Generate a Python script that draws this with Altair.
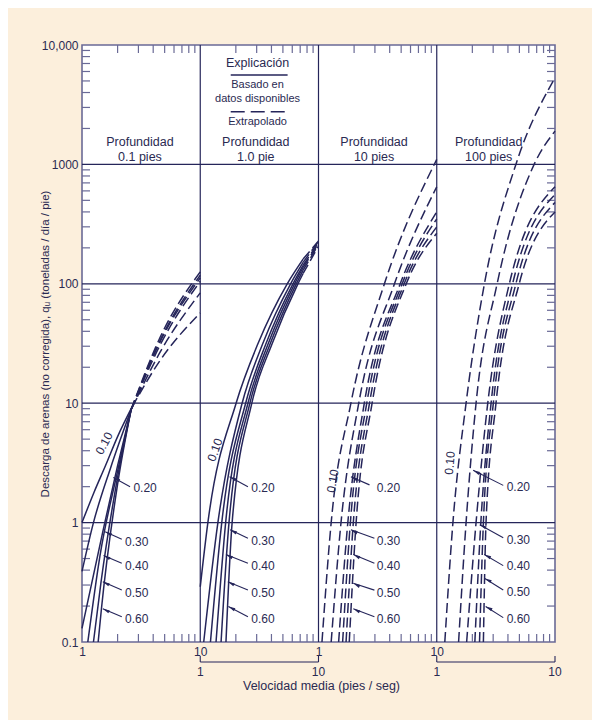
import altair as alt
import pandas as pd

W, H = 473, 597
NAVY = "#25255a"
TEXT = "#2a2a52"
FRAME = "#6a6a96"
BG = "#fcefdc"
FONT = "Liberation Sans"

SIZES = ["0.10", "0.20", "0.30", "0.40", "0.50", "0.60"]

# ---- curve readings: velocity (pies/seg) and discharge (ton/dia/pie) ----
# Panel 1: depth 0.1 ft
P1_SOLID_V = [[1.0, 1.26, 1.585, 2.0, 2.65], [1.0, 1.25, 1.75, 2.6], [1.0, 1.5, 2.0, 2.6],
              [1.12, 1.42, 2.0, 2.6], [1.25, 1.45, 2.0, 2.6], [1.37, 1.46, 2.0, 2.6]]
P1_SOLID_Q = [[1.0, 1.78, 3.02, 5.25, 9.3], [0.39, 1.0, 2.9, 8.8], [0.13, 0.84, 3.0, 8.8],
              [0.1, 0.53, 2.7, 8.8], [0.1, 0.32, 2.4, 8.8], [0.1, 0.19, 2.1, 8.8]]
P1_DASH_V = [[2.65, 4.6, 10], [2.6, 4.6, 10], [2.6, 4.6, 10],
             [2.6, 4.6, 10], [2.6, 4.6, 10], [2.6, 4.6, 10]]
P1_DASH_Q = [[9.3, 23, 57], [8.8, 27, 84], [8.8, 31, 105],
             [8.8, 33, 112], [8.8, 34, 118], [8.8, 36, 126]]
# Panel 2: depth 1.0 ft
P2_SOLID_V = [[1.0, 1.16, 2.01, 3.08, 5.44, 7.41], [1.07, 1.41, 2.26, 3.38, 5.81, 7.41],
              [1.22, 1.52, 2.42, 3.60, 6.08, 7.41], [1.36, 1.64, 2.53, 3.76, 6.28, 7.41],
              [1.50, 1.75, 2.63, 3.91, 6.49, 7.41], [1.65, 1.86, 2.73, 4.06, 6.70, 7.41]]
P2_SOLID_Q = [[0.29, 1, 10, 31.6, 100, 161], [0.1, 1, 10, 31.6, 100, 151], [0.1, 1, 10, 31.6, 100, 143],
              [0.1, 1, 10, 31.6, 100, 137], [0.1, 1, 10, 31.6, 100, 130], [0.1, 1, 10, 31.6, 100, 122]]
P2_DASH_V = [[7.41, 10], [7.41, 10], [7.41, 10], [7.41, 10], [7.41, 10], [7.41, 10]]
P2_DASH_Q = [[161, 228], [151, 227], [143, 221], [137, 218], [130, 213], [122, 207]]
# Panel 3: depth 10 ft
P3_DASH_V = [[1.07, 1.28, 1.88, 3.61, 10], [1.28, 1.55, 2.19, 4.39, 10], [1.48, 1.77, 2.44, 4.91, 10],
             [1.60, 1.86, 2.56, 5.10, 10], [1.71, 1.97, 2.70, 5.30, 10], [1.82, 2.08, 2.84, 5.52, 10]]
P3_DASH_Q = [[0.1, 1, 10, 100, 1100], [0.1, 1, 10, 100, 650], [0.1, 1, 10, 100, 400],
             [0.1, 1, 10, 100, 350], [0.1, 1, 10, 100, 300], [0.1, 1, 10, 100, 265]]
# Panel 4: depth 100 ft
P4_DASH_V = [[1.17, 1.37, 1.77, 2.53, 4.67, 10], [1.53, 1.77, 2.15, 3.24, 6.66, 10], [1.79, 2.15, 2.70, 4.11, 10],
             [2.10, 2.36, 2.88, 4.38, 10], [2.30, 2.48, 3.01, 4.67, 10], [2.48, 2.61, 3.17, 4.98, 10]]
P4_DASH_Q = [[0.1, 1, 10, 100, 1000, 5300], [0.1, 1, 10, 100, 1000, 1900], [0.1, 1, 10, 100, 650],
             [0.1, 1, 10, 100, 560], [0.1, 1, 10, 100, 480], [0.1, 1, 10, 100, 400]]

# ---- annotations ----
DEPTH_TEXT = ["0.1 pies", "1.0 pie", "10 pies", "100 pies"]
DEPTH_V = [3.09, 2.95, 2.95, 2.75]
DEPTH_Q1, DEPTH_Q2 = 1540, 1153

NUM_TEXT = ["0.20", "0.30", "0.40", "0.50", "0.60"]
LABEL_V = [[2.72, 2.31, 2.31, 2.31, 2.31], [2.70] * 5, [3.11] * 5, [3.90] * 5]
LABEL_Q = [[1.94, 0.69, 0.435, 0.259, 0.155], [1.94, 0.70, 0.43, 0.256, 0.155],
           [1.96, 0.70, 0.432, 0.259, 0.156], [1.98, 0.72, 0.436, 0.264, 0.157]]
TAIL_V = [[2.55, 2.17, 2.17, 2.17, 2.17], [2.53] * 5, [2.70, 2.97, 2.97, 2.97, 2.97], [3.65] * 5]
TAIL_Q = [[2.0, 0.724, 0.456, 0.272, 0.163], [2.0, 0.74, 0.456, 0.272, 0.163],
          [2.07, 0.738, 0.456, 0.272, 0.163], [2.05, 0.748, 0.436, 0.273, 0.160]]
TIP_V = [[1.84, 1.57, 1.52, 1.50, 1.50], [1.77, 1.79, 1.65, 1.71, 1.73],
         [1.88, 1.88, 1.97, 1.97, 1.97], [2.03, 2.31, 2.52, 2.55, 2.59]]
TIP_Q = [[2.39, 0.84, 0.53, 0.32, 0.19], [2.42, 0.87, 0.54, 0.32, 0.198],
         [2.42, 0.87, 0.54, 0.31, 0.19], [2.74, 0.96, 0.54, 0.34, 0.198]]

ROT_V = [1.54, 1.335, 1.32, 1.29]
ROT_Q = [4.61, 4.06, 2.23, 3.16]
ROT_ANGLE = [298, 290, 280, 275]

LEG_TEXT = ["Explicación", "Basado en", "datos disponibles", "Extrapolado"]
LEG_Q = [7035, 4624, 3508, 2280]
LEG_SIZE = [12.5, 11, 11, 11]
LEG_V = 3.05
LEG_LINE_V = [1.81, 5.48]
LEG_SOLID_Q, LEG_DASH_Q = 5610, 2762

GRID_Q = [1, 10, 100, 1000]
GRID_X = [1, 2, 3]
Y_LABELS = [0.1, 1, 10, 100, 1000, 10000]
Y_DECADES = [0.1, 1, 10, 100, 1000]
MINOR = [2, 3, 4, 5, 6, 7, 8, 9]
BRACKET_PANELS = [1, 3]
Y_TITLE = "Descarga de arenas (no corregida), qᵤ (toneladas / día / pie)"
X_TITLE = "Velocidad media (pies / seg)"

# ---- tables ----
def curve_rows(panel, style, vs, qs):
    out = []
    for s, vl, ql in zip(SIZES, vs, qs):
        for i, (v, q) in enumerate(zip(vl, ql)):
            out.append({"panel": panel, "size": s, "style": style,
                        "key": f"{panel}-{s}-{style}", "i": i, "v": v, "q": q})
    return out

rows = []
rows += curve_rows(0, "solid", P1_SOLID_V, P1_SOLID_Q)
rows += curve_rows(0, "dash", P1_DASH_V, P1_DASH_Q)
rows += curve_rows(1, "solid", P2_SOLID_V, P2_SOLID_Q)
rows += curve_rows(1, "dash", P2_DASH_V, P2_DASH_Q)
rows += curve_rows(2, "dash", P3_DASH_V, P3_DASH_Q)
rows += curve_rows(3, "dash", P4_DASH_V, P4_DASH_Q)
curves = pd.DataFrame(rows)

lab_rows, arr_rows = [], []
for p in range(4):
    for k, t in enumerate(NUM_TEXT):
        lab_rows.append({"panel": p, "v": LABEL_V[p][k], "q": LABEL_Q[p][k], "text": t})
        arr_rows.append({"panel": p, "v": TAIL_V[p][k], "q": TAIL_Q[p][k],
                         "v2": TIP_V[p][k], "q2": TIP_Q[p][k]})
labels = pd.DataFrame(lab_rows)
arrows = pd.DataFrame(arr_rows)
rot = pd.DataFrame({"panel": [0, 1, 2, 3], "v": ROT_V, "q": ROT_Q, "angle": ROT_ANGLE})
depth = pd.DataFrame({"panel": [0, 1, 2, 3] * 2, "v": DEPTH_V * 2,
                      "q": [DEPTH_Q1] * 4 + [DEPTH_Q2] * 4,
                      "text": ["Profundidad"] * 4 + DEPTH_TEXT})
legend_txt = pd.DataFrame({"panel": 1, "v": LEG_V, "q": LEG_Q, "text": LEG_TEXT, "fs": LEG_SIZE})
legend_lines = pd.DataFrame({"panel": [1, 1], "v": [LEG_LINE_V[0]] * 2, "v2": [LEG_LINE_V[1]] * 2,
                             "q": [LEG_SOLID_Q, LEG_DASH_Q], "style": ["solid", "dash"]})
yminor = pd.DataFrame({"q": [d * m for d in Y_DECADES for m in MINOR]})
xminor = pd.DataFrame({"panel": [p for p in range(4) for m in MINOR],
                       "v": [m for p in range(4) for m in MINOR]})
brackets = pd.DataFrame({"panel": BRACKET_PANELS})
br_ends = pd.DataFrame({"gx": [b + e for b in BRACKET_PANELS for e in (0, 1)],
                        "text": ["1", "10"] * len(BRACKET_PANELS)})

GX = "datum.panel + log(datum.v) / LN10"
GX2 = "datum.panel + log(datum.v2) / LN10"
xs = alt.Scale(domain=[0, 4], nice=False, zero=False)
ys = alt.Scale(type="log", domain=[0.1, 10000], nice=False)

yaxis = alt.Axis(values=Y_LABELS,
                 labelExpr="datum.value == 10000 ? '10,000' : format(datum.value, '~g')",
                 ticks=False, domain=False, grid=False, labelPadding=4, labelFontSize=12,
                 labelFont=FONT, labelColor=TEXT, labelFlush=False,
                 title=Y_TITLE, titleX=-37, titleY=H / 2, titleAngle=270, titleAlign="center",
                 titleBaseline="middle", titleFontSize=11.5, titleFontWeight="normal",
                 titleFont=FONT, titleColor=TEXT)
xaxis = alt.Axis(values=[0, 1, 2, 3], labelExpr="round(datum.value) % 2 == 0 ? '1' : '10'",
                 ticks=False, domain=False, grid=False, labelPadding=4, labelFontSize=12,
                 labelFont=FONT, labelColor=TEXT, labelFlush=False, title=None)

X = alt.X("gx:Q", scale=xs, axis=xaxis)
Y = alt.Y("q:Q", scale=ys, axis=yaxis)
X2tip = alt.X("gx2:Q", scale=xs, axis=xaxis)
Y2tip = alt.Y("q2:Q", scale=ys, axis=yaxis)

hgrid = alt.Chart(pd.DataFrame({"q": GRID_Q})).mark_rule(color=NAVY, strokeWidth=1.2).encode(y=Y)
vgrid = alt.Chart(pd.DataFrame({"gx": GRID_X})).mark_rule(color=NAVY, strokeWidth=1.2).encode(x=X)

ytick_l = alt.Chart(yminor).mark_rule(color=FRAME, strokeWidth=1.2).encode(
    y=Y, x=alt.value(0), x2=alt.value(8))
ytick_r = alt.Chart(yminor).mark_rule(color=FRAME, strokeWidth=1.2).encode(
    y=Y, x=alt.value(W), x2=alt.value(W - 8))
xtick_t = alt.Chart(xminor).transform_calculate(gx=GX).mark_rule(color=FRAME, strokeWidth=1.2).encode(
    x=X, y=alt.value(0), y2=alt.value(8))
xtick_b = alt.Chart(xminor).transform_calculate(gx=GX).mark_rule(color=FRAME, strokeWidth=1.2).encode(
    x=X, y=alt.value(H), y2=alt.value(H - 8))

solid = alt.Chart(curves).transform_filter("datum.style == 'solid'").transform_calculate(gx=GX).mark_line(
    interpolate="monotone", color=NAVY, strokeWidth=1.5).encode(
    x=X, y=Y, detail="key:N", order="i:Q")
dashed = alt.Chart(curves).transform_filter("datum.style == 'dash'").transform_calculate(gx=GX).mark_line(
    interpolate="monotone", color=NAVY, strokeWidth=1.5, strokeDash=[10, 4.5]).encode(
    x=X, y=Y, detail="key:N", order="i:Q")

num_text = alt.Chart(labels).transform_calculate(gx=GX).mark_text(
    align="left", baseline="middle", font=FONT, fontSize=12, color=TEXT).encode(x=X, y=Y, text="text:N")
rot_text = alt.Chart(rot).transform_calculate(gx=GX).mark_text(
    align="center", baseline="middle", font=FONT, fontSize=12, color=TEXT).encode(
    x=X, y=Y, text=alt.value("0.10"), angle=alt.Angle("angle:Q", scale=None))
shafts = alt.Chart(arrows).transform_calculate(gx=GX, gx2=GX2).mark_rule(color=NAVY, strokeWidth=1.1).encode(
    x=X, y=Y, x2="gx2:Q", y2="q2:Q")
heads = alt.Chart(arrows).transform_calculate(gx2=GX2).mark_point(
    shape="M0,0L0.45,2L-0.45,2Z", filled=True, size=49, angle=297, color=NAVY, opacity=1,
    strokeWidth=0).encode(x=X2tip, y=Y2tip)

depth_text = alt.Chart(depth).transform_calculate(gx=GX).mark_text(
    align="center", baseline="middle", font=FONT, fontSize=12.5, color=TEXT).encode(
    x=X, y=Y, text="text:N")

leg_text = alt.Chart(legend_txt).transform_calculate(gx=GX).mark_text(
    align="center", baseline="middle", font=FONT, color=TEXT).encode(
    x=X, y=Y, text="text:N", size=alt.Size("fs:Q", scale=None))
leg_solid = alt.Chart(legend_lines).transform_filter("datum.style == 'solid'").transform_calculate(
    gx=GX, gx2=GX2).mark_rule(color=NAVY, strokeWidth=1.5).encode(x=X, x2="gx2:Q", y=Y)
leg_dash = alt.Chart(legend_lines).transform_filter("datum.style == 'dash'").transform_calculate(
    gx=GX, gx2=GX2).mark_rule(color=NAVY, strokeWidth=1.5, strokeDash=[14, 6]).encode(x=X, x2="gx2:Q", y=Y)

br_line = alt.Chart(brackets).transform_calculate(gx="datum.panel", gx2="datum.panel + 1").mark_rule(
    color=NAVY, strokeWidth=1.1).encode(x=X, x2="gx2:Q", y=alt.value(H + 20))
br_tick = alt.Chart(br_ends).mark_rule(color=NAVY, strokeWidth=1.1).encode(
    x=X, y=alt.value(H + 14), y2=alt.value(H + 20))
br_text = alt.Chart(br_ends).mark_text(align="center", baseline="middle", font=FONT, fontSize=12,
                                       color=TEXT).encode(x=X, y=alt.value(H + 30), text="text:N")
x_title = alt.Chart(pd.DataFrame({"t": [X_TITLE]})).mark_text(
    align="center", baseline="middle", font=FONT, fontSize=12.5, color=TEXT).encode(
    x=alt.value(W / 2 + 3), y=alt.value(H + 44), text="t:N")

chart = alt.layer(
    hgrid, vgrid, ytick_l, ytick_r, xtick_t, xtick_b,
    solid, dashed, shafts, heads, num_text, rot_text,
    depth_text, leg_text, leg_solid, leg_dash,
    br_line, br_tick, br_text, x_title,
).properties(
    width=W, height=H,
    autosize=alt.AutoSizeParams(type="none"),
    padding={"left": 74, "top": 37, "right": 37, "bottom": 78},
).configure(background=BG).configure_view(fill="white", stroke=FRAME, strokeWidth=1.6)

chart.save("out.html", embed_options={"renderer": "svg", "actions": False})
